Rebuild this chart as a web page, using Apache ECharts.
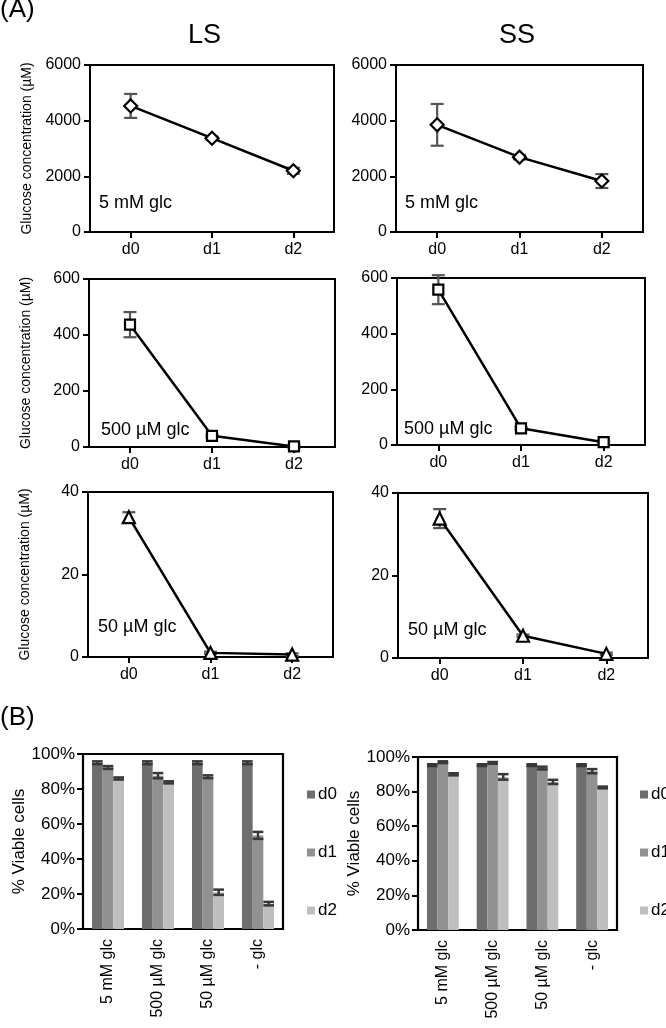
<!DOCTYPE html>
<html>
<head>
<meta charset="utf-8">
<script src="https://cdn.jsdelivr.net/npm/echarts@6/dist/echarts.min.js"></script>
<style>
html,body{margin:0;padding:0;background:#fff;}
#c{width:666px;height:1028px;}
</style>
</head>
<body>
<div id="c"></div>
<script>
// ---------- data ----------
const days = ['d0', 'd1', 'd2'];

const ls5mM = [4530, 3370, 2200];
const ls5mMErr = [430, 60, 110];
const ss5mM = [3850, 2690, 1830];
const ss5mMErr = [750, 80, 250];

const ls500uM = [437, 40, 2];
const ls500uMErr = [45, 5, 6];
const ss500uM = [558, 60, 10];
const ss500uMErr = [52, 5, 6];

const ls50uM = [33.9, 1.0, 0.6];
const ls50uMErr = [1.2, 0.3, 0.3];
const ss50uM = [33.8, 5.4, 1.0];
const ss50uMErr = [2.3, 0.3, 0.3];

const glucoseTicks5mM = [0, 2000, 4000, 6000];
const glucoseTicks500uM = [0, 200, 400, 600];
const glucoseTicks50uM = [0, 20, 40];

const conditions = ['5 mM glc', '500 µM glc', '50 µM glc', '- glc'];
const lsViableD0 = [95, 95, 95, 95];
const lsViableD1 = [92.3, 87.6, 87, 53.5];
const lsViableD2 = [86, 83.8, 21, 14.5];
const lsViableErrD0 = [0.8, 0.8, 0.8, 0.8];
const lsViableErrD1 = [0.8, 1.5, 0.8, 2];
const lsViableErrD2 = [0.6, 0.6, 1.5, 1];

const ssViableD0 = [95.3, 95.3, 95.3, 95.3];
const ssViableD1 = [97, 96.6, 93.6, 91.8];
const ssViableD2 = [90, 88.5, 85.6, 82.4];
const ssViableErrD0 = [0.5, 0.5, 0.5, 0.5];
const ssViableErrD1 = [0.5, 0.5, 0.8, 1.2];
const ssViableErrD2 = [0.6, 1.6, 1.2, 0.5];

const viableTicks = [0, 20, 40, 60, 80, 100];

// ---------- helpers ----------
const FONT = 'Liberation Sans';
const chart = echarts.init(document.getElementById('c'), null, {renderer: 'canvas'});

const lineGrids = [
  {left: 90, top: 65, width: 244, height: 167},
  {left: 396, top: 65, width: 247, height: 167},
  {left: 89, top: 279, width: 246, height: 168},
  {left: 397, top: 278, width: 248, height: 167},
  {left: 88, top: 492, width: 245, height: 165},
  {left: 398, top: 493, width: 250, height: 165}
];
const barGrids = [
  {left: 83, top: 754, width: 200, height: 175},
  {left: 418, top: 757, width: 199, height: 173}
];

const linePanels = [
  {vals: ls5mM, err: ls5mMErr, ticks: glucoseTicks5mM, sym: 'diamond', size: 13, label: '5 mM glc', yTitle: true},
  {vals: ss5mM, err: ss5mMErr, ticks: glucoseTicks5mM, sym: 'diamond', size: 13, label: '5 mM glc', yTitle: false},
  {vals: ls500uM, err: ls500uMErr, ticks: glucoseTicks500uM, sym: 'rect', size: 10, label: '500 µM glc', yTitle: true},
  {vals: ss500uM, err: ss500uMErr, ticks: glucoseTicks500uM, sym: 'rect', size: 10, label: '500 µM glc', yTitle: false},
  {vals: ls50uM, err: ls50uMErr, ticks: glucoseTicks50uM, sym: 'triangle', size: 12, label: '50 µM glc', yTitle: true},
  {vals: ss50uM, err: ss50uMErr, ticks: glucoseTicks50uM, sym: 'triangle', size: 12, label: '50 µM glc', yTitle: false}
];

const grid = [], xAxis = [], yAxis = [], series = [];

function errRender(color, capHalfFn, lw, offsetFn) {
  return function (params, api) {
    const cat = api.value(0);
    const lo = api.coord([cat, api.value(1)]);
    const hi = api.coord([cat, api.value(2)]);
    const dx = offsetFn ? offsetFn(api) : 0;
    const cap = capHalfFn(api);
    const x = lo[0] + dx;
    const st = {stroke: color, lineWidth: lw};
    return {
      type: 'group',
      children: [
        {type: 'line', shape: {x1: x, y1: lo[1], x2: x, y2: hi[1]}, style: st},
        {type: 'line', shape: {x1: x - cap, y1: lo[1], x2: x + cap, y2: lo[1]}, style: st},
        {type: 'line', shape: {x1: x - cap, y1: hi[1], x2: x + cap, y2: hi[1]}, style: st}
      ]
    };
  };
}

linePanels.forEach((p, i) => {
  const g = lineGrids[i];
  grid.push(Object.assign({show: true, borderColor: '#000', borderWidth: 2, backgroundColor: 'transparent', containLabel: false}, g));
  xAxis.push({
    type: 'category', gridIndex: i, data: days, boundaryGap: true,
    axisLine: {show: true, lineStyle: {color: '#000', width: 2}},
    axisTick: {show: true, alignWithLabel: true, length: 6, lineStyle: {color: '#000', width: 2}},
    axisLabel: {color: '#000', fontSize: 16, fontFamily: FONT, margin: 10},
    splitLine: {show: false}
  });
  const mx = p.ticks[p.ticks.length - 1];
  yAxis.push({
    type: 'value', gridIndex: i, min: 0, max: mx, interval: p.ticks[1] - p.ticks[0],
    axisLine: {show: true, lineStyle: {color: '#000', width: 2}},
    axisTick: {show: true, length: 6, lineStyle: {color: '#000', width: 2}},
    axisLabel: {color: '#000', fontSize: 16, fontFamily: FONT, margin: 9, formatter: (v) => String(v)},
    splitLine: {show: false},
    name: p.yTitle ? 'Glucose concentration (µM)' : '',
    nameLocation: 'middle', nameRotate: 90, nameGap: 56,
    nameTextStyle: {color: '#000', fontSize: 14, fontFamily: FONT}
  });
  series.push({
    type: 'custom', xAxisIndex: i, yAxisIndex: i, z: 2, silent: true,
    data: p.vals.map((v, k) => [k, v - p.err[k], v + p.err[k]]),
    renderItem: errRender('#555', () => 6.5, 2.2, null)
  });
  series.push({
    type: 'line', xAxisIndex: i, yAxisIndex: i, z: 3, silent: true,
    data: p.vals,
    symbol: p.sym, symbolSize: p.size,
    lineStyle: {color: '#000', width: 2.5},
    itemStyle: {color: '#fff', borderColor: '#000', borderWidth: 2.2},
    animation: false
  });
});

const barPanels = [
  {d: [lsViableD0, lsViableD1, lsViableD2], e: [lsViableErrD0, lsViableErrD1, lsViableErrD2]},
  {d: [ssViableD0, ssViableD1, ssViableD2], e: [ssViableErrD0, ssViableErrD1, ssViableErrD2]}
];
const barColors = ['#6e6e6e', '#919191', '#bebebe'];
const CAT_GAP = 0.36;

barPanels.forEach((p, j) => {
  const idx = 6 + j;
  grid.push(Object.assign({show: true, borderColor: '#000', borderWidth: 2.2, backgroundColor: 'transparent'}, barGrids[j]));
  xAxis.push({
    type: 'category', gridIndex: idx, data: conditions,
    axisLine: {show: true, lineStyle: {color: '#000', width: 2}},
    axisTick: {show: false},
    axisLabel: {color: '#000', fontSize: 16, fontFamily: FONT, rotate: 90, margin: 10, interval: 0}
  });
  yAxis.push({
    type: 'value', gridIndex: idx, min: 0, max: 100, interval: viableTicks[1] - viableTicks[0],
    axisLine: {show: true, lineStyle: {color: '#000', width: 2}},
    axisTick: {show: true, length: 6, lineStyle: {color: '#000', width: 2}},
    axisLabel: {color: '#000', fontSize: 17, fontFamily: FONT, formatter: '{value}%', margin: 8},
    splitLine: {show: false},
    name: '% Viable cells', nameLocation: 'middle', nameRotate: 90, nameGap: 52,
    nameTextStyle: {color: '#000', fontSize: 17, fontFamily: FONT}
  });
  p.d.forEach((vals, s) => {
    series.push({
      type: 'bar', name: days[s], xAxisIndex: idx, yAxisIndex: idx,
      data: vals, barGap: '0%', barCategoryGap: (CAT_GAP * 100) + '%',
      itemStyle: {color: barColors[s]}, z: 2, animation: false, silent: true
    });
  });
  p.d.forEach((vals, s) => {
    const off = (api) => {
      const bw = api.size([1, 0])[0] * (1 - CAT_GAP) / 3;
      return (s - 1) * bw;
    };
    series.push({
      type: 'custom', xAxisIndex: idx, yAxisIndex: idx, z: 4, silent: true,
      data: vals.map((v, k) => [k, v - p.e[s][k], v + p.e[s][k]]),
      renderItem: errRender('#383838', (api) => api.size([1, 0])[0] * (1 - CAT_GAP) / 6, 2.5, off)
    });
  });
});

const legendCommon = {
  orient: 'vertical', icon: 'rect', itemWidth: 8, itemHeight: 8, itemGap: 41,
  data: days, selectedMode: false,
  textStyle: {color: '#000', fontSize: 17, fontFamily: FONT, lineHeight: 16, padding: [0, 0, 0, -2]}
};

const textStyle = (size) => ({fill: '#000', font: size + 'px "' + FONT + '"'});
const graphics = [
  {type: 'text', left: 0, top: -3, style: Object.assign({text: '(A)'}, textStyle(26))},
  {type: 'text', left: 0, top: 705, style: Object.assign({text: '(B)'}, textStyle(26))},
  {type: 'text', left: 188, top: 22, style: Object.assign({text: 'LS'}, textStyle(27))},
  {type: 'text', left: 499, top: 22, style: Object.assign({text: 'SS'}, textStyle(27))},
  {type: 'text', left: 99, top: 194, style: Object.assign({text: '5 mM glc'}, textStyle(18))},
  {type: 'text', left: 405, top: 194, style: Object.assign({text: '5 mM glc'}, textStyle(18))},
  {type: 'text', left: 101, top: 421, style: Object.assign({text: '500 µM glc'}, textStyle(18))},
  {type: 'text', left: 404, top: 420, style: Object.assign({text: '500 µM glc'}, textStyle(18))},
  {type: 'text', left: 98, top: 618, style: Object.assign({text: '50 µM glc'}, textStyle(18))},
  {type: 'text', left: 408, top: 621, style: Object.assign({text: '50 µM glc'}, textStyle(18))}
];

chart.setOption({
  animation: false,
  backgroundColor: '#fff',
  grid, xAxis, yAxis, series,
  legend: [
    Object.assign({left: 302, top: 781}, legendCommon),
    Object.assign({left: 635, top: 781}, legendCommon)
  ],
  graphic: graphics
});
</script>
</body>
</html>
